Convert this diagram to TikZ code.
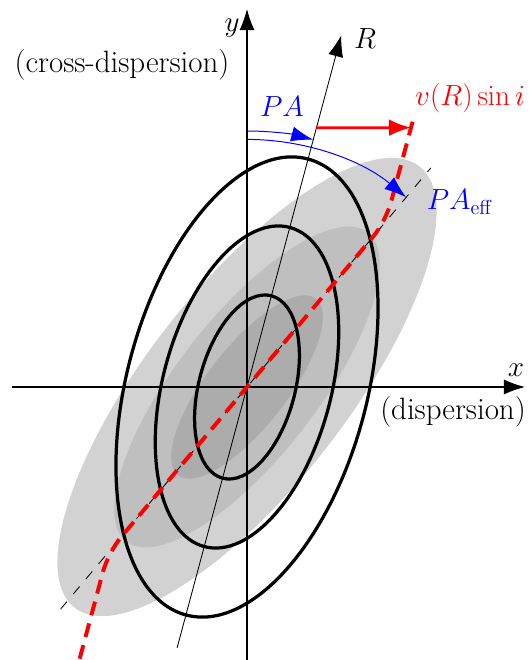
\documentclass[tikz,border=0pt]{standalone}
\usetikzlibrary{arrows.meta,calc}

\tikzset{
    axis/.style={line width=0.8pt,-{Latex[length=5.3mm,width=3.8mm]}},
    contour/.style={line width=2.3pt},
    majoraxis/.style={line width=0.6pt,dash pattern=on 7pt off 7pt},
    rotcurve/.style={red,line width=2.8pt,dash pattern=on 10pt off 6pt,rounded corners=0.5cm},
    anglearc/.style={blue,line width=0.7pt,-{Latex[length=5.5mm,width=3.8mm]}},
    lbl/.style={font=\fontsize{22}{26}\selectfont,inner sep=0pt},
}

\begin{document}
\begin{tikzpicture}
    \useasboundingbox (-6.175,-6.825) rectangle (7.075,9.675);
    % light distribution, PA_eff = 40
    \foreach \s/\c in {1/gray!35,0.7/gray!50,0.4/gray!65} {
        \fill[\c,rotate=52] (0,0) ellipse ({7*\s} and {2.5*\s});
    }
    \coordinate (mb) at (230:7.25);
    \coordinate (mt) at (50:7.15);
    \draw[majoraxis] (mb) -- (mt);

    % axes
    \coordinate (xl) at (-5.875,0);
    \coordinate (xr) at (6.95,0);
    \coordinate (yb) at (0,-6.825);
    \coordinate (yt) at (0,9.45);
    \draw[axis] (xl) -- (xr);
    \draw[axis] (yb) -- (yt);
    \node[lbl] (xlab) at (6.725,0.425) {$x$};
    \node[lbl] (xname) at (5.15,-0.625) {(dispersion)};
    \node[lbl] (ylab) at (-0.375,8.975) {$y$};
    \node[lbl] (yname) at (-3.125,8.05) {(cross-dispersion)};

    % velocity field, PA = 15
    \foreach \s in {1,0.7,0.4} {
        \draw[contour,rotate=75] (0,0) ellipse ({5.9*\s} and {3*\s});
    }
    \coordinate (Rb) at (255:6.75);
    \coordinate (Rt) at (75:9.1);
    \draw[line width=0.6pt,-{Latex[length=5.3mm,width=3.8mm]}] (Rb) -- (Rt);
    \node[lbl] (Rlab) at (2.95,8.72) {$R$};

    % rotation curve
    \coordinate (k1) at (230:5.4);
    \coordinate (k2) at (50:5.4);
    \draw[rotcurve] ($(k1)+(255:2.75)$) -- (k1) -- (k2) -- ($(k2)+(75:2.7)$);
    \coordinate (Rv) at (75:6.71);
    \coordinate (vR) at ($(k2)+(75:2.43)$);
    \draw[red,line width=2pt,-{Latex[length=5.5mm,width=4.2mm]}] (Rv) -- (vR);
    \node[lbl,red] (vlab) at (5.575,7.225) {$v(R)\sin i$};

    % position angles
    \coordinate (pa) at (90:6.4);
    \coordinate (pae) at (90:6.19);
    \draw[anglearc] (pa) arc[start angle=90,end angle=75,radius=6.4];
    \draw[anglearc] (pae) arc[start angle=90,end angle=50,radius=6.19];
    \node[lbl,blue] (palab) at (0.875,7.0) {$PA$};
    \node[lbl,blue] (paelab) at (5.325,4.625) {$PA_{\mathrm{eff}}$};
\end{tikzpicture}
\end{document}
